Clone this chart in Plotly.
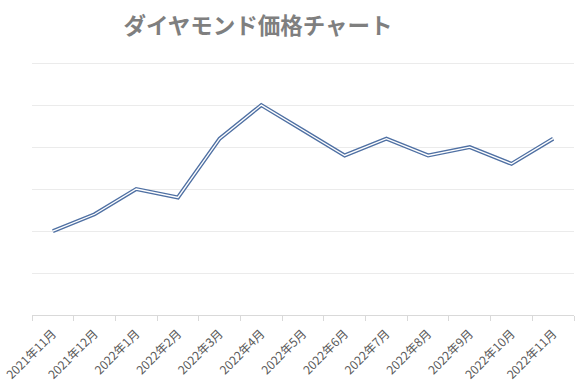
import plotly.graph_objects as go

months = ["2021年11月", "2021年12月", "2022年1月", "2022年2月", "2022年3月", "2022年4月",
          "2022年5月", "2022年6月", "2022年7月", "2022年8月", "2022年9月", "2022年10月", "2022年11月"]
prices = [2.0, 2.4, 3.0, 2.8, 4.2, 5.0, 4.4, 3.8, 4.2, 3.8, 4.0, 3.6, 4.2]

fig = go.Figure()
fig.add_trace(go.Scatter(x=months, y=prices, mode="lines",
                         line=dict(color="#4f70a3", width=4), hoverinfo="skip", showlegend=False))
fig.add_trace(go.Scatter(x=months, y=prices, mode="lines",
                         line=dict(color="#ffffff", width=1.3), showlegend=False))

fig.update_layout(
    width=588, height=385,
    margin=dict(l=32, r=14, t=61, b=70, autoexpand=False),
    paper_bgcolor="white", plot_bgcolor="white",
    font=dict(family="Noto Sans CJK JP", color="#595959", size=12),
    title=dict(text="<b>ダイヤモンド価格チャート</b>", x=258 / 588, xanchor="center",
               y=1 - 26 / 385, yref="container", yanchor="middle",
               font=dict(family="Noto Sans CJK JP", size=22.5, color="#7f7f7f")),
    xaxis=dict(type="category", range=[-0.5, 12.5], tickson="boundaries",
               ticks="outside", ticklen=5, tickcolor="#d9d9d9",
               showline=True, linecolor="#d9d9d9", linewidth=1,
               showgrid=False, tickangle=-45, automargin=False,
               ticklabelstandoff=6,
               tickfont=dict(size=12, color="#595959")),
    yaxis=dict(range=[0, 6.05], dtick=1, showticklabels=False, showgrid=True,
               gridcolor="#ebebeb", gridwidth=1, zeroline=False, showline=False,
               automargin=False),
)

fig.write_html("out.html", config={"displayModeBar": False},
               post_script="document.body.style.margin='0';")
